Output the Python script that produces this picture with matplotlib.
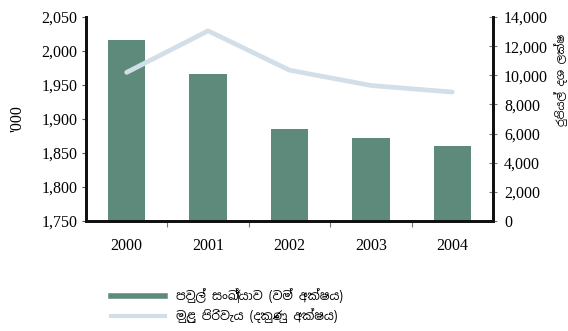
import matplotlib
matplotlib.use("Agg")
import matplotlib.pyplot as plt
import numpy as np

years = ["2000", "2001", "2002", "2003", "2004"]
families = [2016, 1966, 1886, 1872, 1860]          # '000, left axis
total_cost = [10200, 13050, 10350, 9300, 8850]     # Rs. million, right axis

left_ticks = [1750, 1800, 1850, 1900, 1950, 2000, 2050]
right_ticks = [0, 2000, 4000, 6000, 8000, 10000, 12000, 14000]

label_families = "පවුල් සංඛ්‍යාව (වම් අක්ෂය)"
label_cost = "මුළු පිරිවැය (දකුණු අක්ෂය)"
right_axis_title = "රුපියල් දශ ලක්ෂ"

SERIF = ["Liberation Serif", "DejaVu Serif"]
SINHALA = ["Noto Sans Sinhala", "Noto Serif Sinhala", "Iskoola Pota", "DejaVu Sans"]
BAR = "#5e8a7b"
LINE = "#d2dfe8"
NUM_SIZE = 11.5

fig = plt.figure(figsize=(5.68, 3.31), dpi=100)
ax = fig.add_axes([86 / 568, 1 - 221 / 331, 407 / 568, 204 / 331])
ax2 = ax.twinx()

x = np.arange(len(years))
ax.bar(x, families, width=0.46, color=BAR, zorder=2)
ax2.plot(x, total_cost, color=LINE, lw=3.4, solid_capstyle="round", zorder=3)

ax.set_xlim(-0.5, len(years) - 0.5)
ax.set_ylim(left_ticks[0], left_ticks[-1])
ax2.set_ylim(right_ticks[0], right_ticks[-1])

ax.set_yticks(left_ticks)
ax.set_yticklabels([f"{v:,}" for v in left_ticks], family=SERIF, fontsize=NUM_SIZE)
ax2.set_yticks(right_ticks)
ax2.set_yticklabels([f"{v:,}" for v in right_ticks], family=SERIF, fontsize=NUM_SIZE)

# category labels centred, ticks on the boundaries between categories
ax.set_xticks(x)
ax.set_xticklabels(years, family=SERIF, fontsize=NUM_SIZE)
ax.tick_params(axis="x", length=0, pad=12)
ax.set_xticks(np.arange(0.5, len(years) - 0.5), minor=True)
ax.tick_params(axis="x", which="minor", length=4, width=0.8, color="#777777")

ax.tick_params(axis="y", length=3, width=0.8, color="#555555", pad=3)
ax2.tick_params(axis="y", direction="inout", length=6, width=0.8, color="#777777", pad=5)

for a in (ax, ax2):
    a.spines["top"].set_visible(False)
    for s in ("left", "right", "bottom"):
        a.spines[s].set_linewidth(2)
        a.spines[s].set_color("#111111")

ax.set_ylabel("'000", family=SERIF, fontsize=NUM_SIZE, labelpad=12)
fig.text(561 / 568, 1 - 80 / 331, right_axis_title, rotation=90, ha="center",
         va="center", family=SINHALA, fontsize=8)

# legend drawn below the plot
handles = [plt.Line2D([], [], color=BAR, lw=4), plt.Line2D([], [], color=LINE, lw=3)]
fig.legend(handles, [label_families, label_cost], loc="lower left",
           bbox_to_anchor=(100 / 568, -0.01), frameon=False, handlelength=4.4,
           handletextpad=0.9, labelspacing=0.45, prop={"family": SINHALA, "size": 8.8})

fig.savefig("out.png", dpi=100)
